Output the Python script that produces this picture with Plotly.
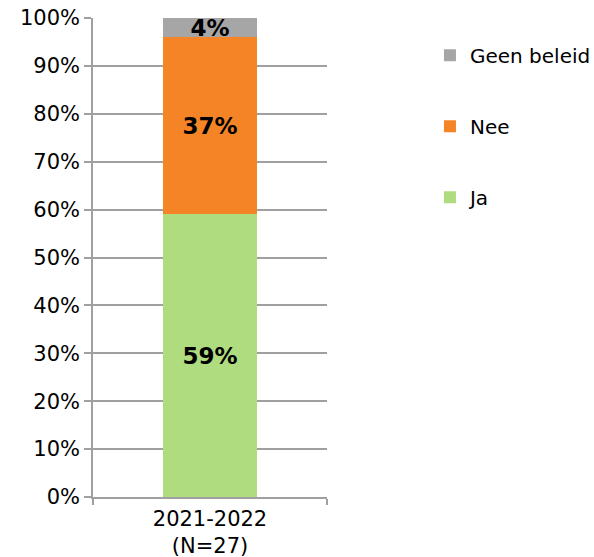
import plotly.graph_objects as go

categories = ["2021-2022<br>(N=27)"]
series_names = ["Ja", "Nee", "Geen beleid"]
ja = [0.59]
nee = [0.37]
geen_beleid = [0.04]
colors = {"Ja": "#AFDC7E", "Nee": "#F58426", "Geen beleid": "#A6A6A6"}
legend_rank = {"Geen beleid": 1, "Nee": 2, "Ja": 3}

font_family = "DejaVu Sans, Verdana, sans-serif"

fig = go.Figure()
for name, vals in zip(series_names, [ja, nee, geen_beleid]):
    fig.add_trace(go.Bar(
        x=categories, y=vals, name=name,
        marker=dict(color=colors[name], line=dict(width=0)),
        text=[f"{v:.0%}" for v in vals],
        textposition="inside", insidetextanchor="middle",
        constraintext="none",
        textfont=dict(family=font_family, size=23, color="black", weight="bold"),
        legendgroup=name, legendrank=legend_rank[name],
        hoverinfo="skip",
    ))

fig.update_layout(
    barmode="stack",
    bargap=0.6,
    width=594, height=557,
    margin=dict(l=93, r=267, t=18, b=60, autoexpand=False),
    plot_bgcolor="white", paper_bgcolor="white",
    font=dict(family=font_family, size=21, color="black"),
    legend=dict(
        x=1.44, xanchor="left", y=0.963, yanchor="top",
        traceorder="grouped", tracegroupgap=42,
        font=dict(size=20), itemwidth=30,
    ),
    showlegend=True,
)
fig.update_yaxes(
    range=[0, 1], tickformat=".0%", dtick=0.1,
    showgrid=True, gridcolor="#A0A0A0", gridwidth=1.5,
    showline=True, linecolor="#A0A0A0", linewidth=1.5,
    ticks="outside", ticklen=7, tickcolor="#A0A0A0", tickwidth=1.5,
    zeroline=False, automargin=False,
)
fig.update_xaxes(
    showline=True, linecolor="#A0A0A0", linewidth=1.5,
    ticks="outside", ticklen=6, tickcolor="#A0A0A0", tickwidth=1.5,
    tickson="boundaries", automargin=False, ticklabelstandoff=2,
)

fig.write_html("out.html", config={"displayModeBar": False},
               post_script="document.body.style.margin='0';")
